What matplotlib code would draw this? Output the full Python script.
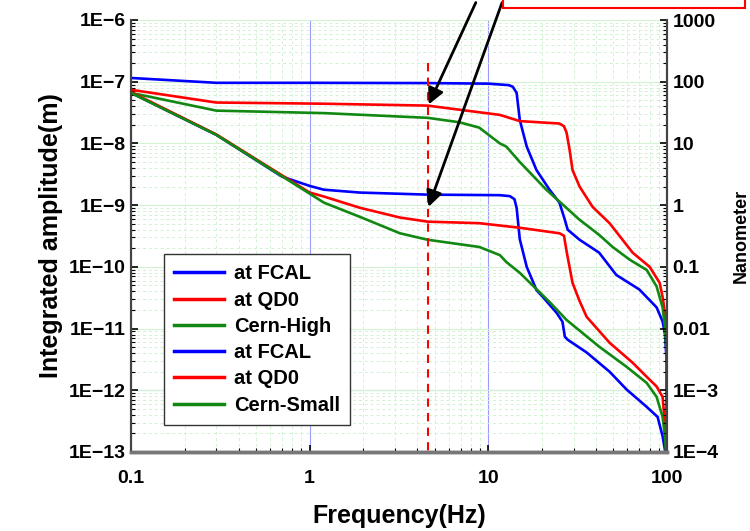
import matplotlib
matplotlib.use("Agg")
import matplotlib.pyplot as plt
from matplotlib.patches import Rectangle
from matplotlib.ticker import FixedLocator, FixedFormatter, LogLocator, NullFormatter

plt.rcParams['font.family'] = ['Liberation Sans', 'DejaVu Sans']

# integrated amplitude (m) vs frequency (Hz)
f_fcal_high = [0.1, 0.3, 1, 4.6, 10, 13, 13.7, 14.4, 15, 16.4, 18.6, 22, 25, 26.8, 27.8,
               32.4, 41.7, 52, 70, 87.5, 94.5, 97.5, 99.5, 100]
a_fcal_high = [1.15e-7, 9.6e-8, 9.6e-8, 9.5e-8, 9.3e-8, 8.8e-8, 8.3e-8, 6.6e-8, 2.4e-8,
               8.9e-9, 3.7e-9, 1.78e-9, 1.1e-9, 5.8e-10, 4e-10, 2.75e-10, 1.7e-10, 7.4e-11,
               4.3e-11, 2.2e-11, 1.3e-11, 8e-12, 3e-12, 1e-15]

f_qd0_high = [0.1, 0.3, 1.2, 4.57, 8.9, 11.6, 15, 25, 26.5, 27.4, 28.5, 29.6, 32.4, 38.3,
              47.7, 64.2, 80, 91, 95, 98, 99.7, 100]
a_qd0_high = [7.4e-8, 4.6e-8, 4.4e-8, 4.1e-8, 3.2e-8, 2.9e-8, 2.3e-8, 2.1e-8, 1.9e-8, 1.5e-8,
              7.9e-9, 3.7e-9, 2e-9, 9.4e-10, 5.1e-10, 1.7e-10, 1e-10, 5.5e-11, 3e-11, 1.5e-11,
              5e-12, 1e-15]

f_cern_high = [0.1, 0.3, 1.2, 4.57, 6.9, 8.9, 11.6, 12.6, 15, 21.1, 32.4, 41.7, 49.6, 62,
               77, 87.5, 94.5, 97.3, 99.5, 100]
a_cern_high = [6.6e-8, 3.4e-8, 3.1e-8, 2.6e-8, 2.2e-8, 1.8e-8, 1.0e-8, 8.9e-9, 5e-9, 1.78e-9,
               5.8e-10, 3.3e-10, 2.1e-10, 1.3e-10, 8.9e-11, 4.8e-11, 2.2e-11, 1.07e-11, 4e-12,
               1e-15]

f_fcal_small = [0.1, 0.3, 0.7, 0.85, 1.0, 1.2, 1.9, 4.57, 11.6, 13.2, 14.0, 14.4, 15, 16.4, 18.6,
                20.1, 24.1, 26, 26.8, 27.8, 35.5, 47.7, 59.4, 76.9, 88.6, 94.5, 97.3, 99.5, 100]
a_fcal_small = [6.6e-8, 1.38e-8, 2.9e-9, 2.4e-9, 2.05e-9, 1.78e-9, 1.6e-9, 1.48e-9, 1.45e-9, 1.4e-9,
                1.25e-9, 9e-10, 2.8e-10, 1e-10, 4.2e-11, 3.3e-11, 1.8e-11, 1.29e-11, 7.4e-12,
                6.6e-12, 4.1e-12, 2e-12, 1.03e-12, 5.4e-13, 3.7e-13, 1.8e-13, 1.1e-13, 4e-14, 1e-15]

f_qd0_small = [0.1, 0.3, 1.0, 1.2, 1.9, 3.2, 4.57, 8.9, 15, 25, 26.5, 27.5, 29.6, 32.4, 35.5,
               47.7, 64.2, 76.9, 87.5, 94.5, 97.3, 99.5, 100]
a_qd0_small = [6.8e-8, 1.4e-8, 1.6e-9, 1.38e-9, 9.1e-10, 6.3e-10, 5.4e-10, 5.1e-10, 4.3e-10,
               3.5e-10, 3.2e-10, 1.7e-10, 5.5e-11, 2.8e-11, 1.55e-11, 5.9e-12, 2.8e-12, 1.66e-12,
               1.15e-12, 7.8e-13, 2.9e-13, 1e-13, 1e-15]

f_cern_small = [0.1, 0.3, 1.2, 1.9, 3.2, 4.57, 8.9, 11.6, 12.6, 15, 22, 27.4, 41.7, 59.4,
                76.9, 87.5, 94.5, 97.3, 99.5, 100]
a_cern_small = [6.6e-8, 1.38e-8, 1.1e-9, 6.5e-10, 3.5e-10, 2.75e-10, 2.1e-10, 1.55e-10,
                1.2e-10, 8e-11, 2.7e-11, 1.38e-11, 5.1e-12, 2.4e-12, 1.32e-12, 7.8e-13, 3.7e-13,
                1.8e-13, 7e-14, 1e-15]

f_mark = 4.57
x_ticks = [0.1, 1, 10, 100]
x_labels = ['0.1', '1', '10', '100']
y_ticks = [1e-13, 1e-12, 1e-11, 1e-10, 1e-9, 1e-8, 1e-7, 1e-6]
y_labels = ['1E\u221213', '1E\u221212', '1E\u221211', '1E\u221210', '1E\u22129', '1E\u22128',
            '1E\u22127', '1E\u22126']
nm_ticks = [1e-4, 1e-3, 1e-2, 1e-1, 1, 10, 100, 1000]
nm_labels = ['1E\u22124', '1E\u22123', '0.01', '0.1', '1', '10', '100', '1000']

fig = plt.figure(figsize=(7.5, 5.31), dpi=100)
ax = fig.add_axes([131 / 750, 1 - 452 / 531, 536 / 750, 432 / 531])

# grid
ax.grid(True, which='minor', color='#d2f2d2', ls=(0, (3, 3)), lw=0.7)
ax.grid(True, which='major', axis='y', color='#d2f2d2', lw=0.8)
ax.grid(True, which='major', axis='x', color='#9a9aff', lw=0.8)
ax.axhline(1e-12, color='#9a9aff', lw=0.8, zorder=1)

lw = 1.9
ax.plot(f_fcal_high, a_fcal_high, color='blue', lw=lw, label='at FCAL')
ax.plot(f_qd0_high, a_qd0_high, color='red', lw=lw, label='at QD0')
ax.plot(f_cern_high, a_cern_high, color='#118811', lw=lw, label='Cern-High')
ax.plot(f_fcal_small, a_fcal_small, color='blue', lw=lw, label='at FCAL')
ax.plot(f_qd0_small, a_qd0_small, color='red', lw=lw, label='at QD0')
ax.plot(f_cern_small, a_cern_small, color='#118811', lw=lw, label='Cern-Small')

ax.plot([f_mark, f_mark], [2e-7, 1e-13], color='red', lw=1.5, ls=(0, (4, 3)))

ax.set_xscale('log')
ax.set_yscale('log')
ax.set_xlim(0.1, 100)
ax.set_ylim(1e-13, 1e-6)
ax.xaxis.set_major_locator(FixedLocator(x_ticks))
ax.xaxis.set_major_formatter(FixedFormatter(x_labels))
ax.yaxis.set_major_locator(FixedLocator(y_ticks))
ax.yaxis.set_major_formatter(FixedFormatter(y_labels))
ax.xaxis.set_minor_locator(LogLocator(base=10, subs=range(2, 10)))
ax.yaxis.set_minor_locator(LogLocator(base=10, subs=range(2, 10), numticks=20))
ax.xaxis.set_minor_formatter(NullFormatter())
ax.yaxis.set_minor_formatter(NullFormatter())
ax.tick_params(which='both', direction='in', top=False, right=False)
ax.tick_params(which='major', length=5, width=1.2, labelsize=14)
ax.tick_params(which='minor', length=3, width=0.8)
ax.tick_params(axis='x', pad=13)
ax.tick_params(axis='y', pad=4)
for t in ax.get_xticklabels() + ax.get_yticklabels():
    t.set_fontweight('bold')

ax2 = ax.twinx()
ax2.set_yscale('log')
ax2.set_ylim(1e-4, 1e3)
ax2.yaxis.set_major_locator(FixedLocator(nm_ticks))
ax2.yaxis.set_major_formatter(FixedFormatter(nm_labels))
ax2.yaxis.set_minor_locator(LogLocator(base=10, subs=range(2, 10), numticks=20))
ax2.yaxis.set_minor_formatter(NullFormatter())
ax2.tick_params(which='both', direction='in')
ax2.tick_params(which='major', length=5, width=1.2, labelsize=14, pad=4)
ax2.tick_params(which='minor', length=3, width=0.8)
for t in ax2.get_yticklabels():
    t.set_fontweight('bold')

for a in (ax, ax2):
    a.spines['top'].set_visible(False)
    a.spines['left'].set_color('#444444')
    a.spines['right'].set_color('#444444')
    a.spines['left'].set_linewidth(1.5)
    a.spines['right'].set_linewidth(1.5)
    a.spines['bottom'].set_color('#777777')
    a.spines['bottom'].set_linewidth(2.5)

ax.set_xlabel('Frequency(Hz)', fontsize=18, fontweight='bold', labelpad=12)
ax.set_ylabel('Integrated amplitude(m)', fontsize=18, fontweight='bold', labelpad=4)
ax2.set_ylabel('Nanometer', fontsize=13, fontweight='bold', labelpad=10)

leg = ax.legend(loc='lower left', bbox_to_anchor=(0.042, 0.04), fancybox=False,
                edgecolor='#333333', framealpha=1, handlelength=2.5,
                labelspacing=0.36, borderpad=0.5, handletextpad=0.5,
                prop={'weight': 'bold', 'size': 14.5})
leg.get_frame().set_linewidth(1.0)
for line in leg.get_lines():
    line.set_linewidth(2.5)

# arrows coming from the note box above the figure
ax.annotate('', xy=(f_mark, 3.9e-8), xytext=(477 / 750, 1.0), textcoords='figure fraction',
            annotation_clip=False,
            arrowprops=dict(arrowstyle='-|>', color='black', lw=2, mutation_scale=24))
ax.annotate('', xy=(f_mark, 8.5e-10), xytext=(503 / 750, 1.0), textcoords='figure fraction',
            annotation_clip=False,
            arrowprops=dict(arrowstyle='-|>', color='black', lw=2, mutation_scale=24))

fig.patches.append(Rectangle((503 / 750, 1 - 8 / 531), 242 / 750, 0.1, transform=fig.transFigure,
                             facecolor='white', edgecolor='red', lw=1.5, zorder=5))

fig.savefig('out.png', dpi=100)
